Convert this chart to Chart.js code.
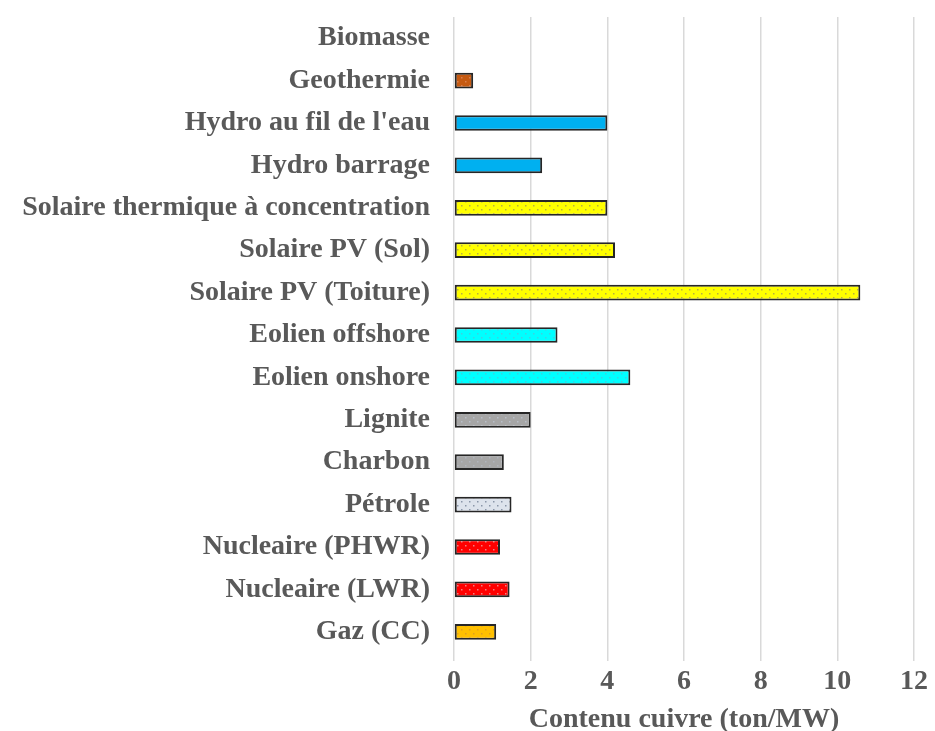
<!DOCTYPE html>
<html>
<head>
<meta charset="utf-8">
<script src="https://cdn.jsdelivr.net/npm/chart.js@4.4.1/dist/chart.umd.min.js"></script>
<style>
  html, body { margin: 0; padding: 0; background: #fff; }
  #wrap { width: 935px; height: 731px; }
</style>
</head>
<body>
<div id="wrap"><canvas id="cuivreChart" width="935" height="731"></canvas></div>
<script>
// categories, top to bottom
const categories = [
  "Biomasse", "Geothermie", "Hydro au fil de l'eau", "Hydro barrage",
  "Solaire thermique à concentration", "Solaire PV (Sol)", "Solaire PV (Toiture)",
  "Eolien offshore", "Eolien onshore", "Lignite", "Charbon", "Pétrole",
  "Nucleaire (PHWR)", "Nucleaire (LWR)", "Gaz (CC)"
];
// copper content, ton/MW
const cuivre = [0, 0.5, 4.0, 2.3, 4.0, 4.2, 10.6, 2.7, 4.6, 2.0, 1.3, 1.5, 1.2, 1.45, 1.1];
const xTicks = [0, 2, 4, 6, 8, 10, 12];

// fill colour + dot colour per bar
const fills = ["#C55A11", "#C55A11", "#00B0F0", "#00B0F0", "#FFFF00", "#FFFF00", "#FFFF00",
  "#00FFFF", "#00FFFF", "#A6A6A6", "#A6A6A6", "#DDE3EC", "#FF0000", "#FF0000", "#FFC000"];
const dots = ["#D98050", "#D98050", null, null, "#B8B040", "#B8B040", "#B8B040",
  "#40D0E0", "#40D0E0", "#B8BEC8", "#B0B4BC", "#8A96A8", "#F08080", "#F08080", "#E0A020"];

function motif(bg, dot) {
    if (!dot) return bg;
    const c = document.createElement("canvas");
    c.width = 8; c.height = 8;
    const g = c.getContext("2d");
    g.fillStyle = bg;
    g.fillRect(0, 0, 8, 8);
    g.fillStyle = dot;
    g.fillRect(1, 1, 1.5, 1.5);
    g.fillRect(5, 5, 1.5, 1.5);
    return g.createPattern(c, "repeat");
}

const police = { family: "'Liberation Serif', 'Times New Roman', serif", size: 28, weight: "bold", lineHeight: 1 };
const gris = "#595959";

new Chart(document.getElementById("cuivreChart"), {
    type: "bar",
    data: {
        labels: categories,
        datasets: [{
            data: cuivre,
            backgroundColor: fills.map((f, i) => motif(f, dots[i])),
            borderColor: "#262626",
            borderWidth: 2,
            borderSkipped: false,
            barPercentage: 0.37,
            categoryPercentage: 1
        }]
    },
    options: {
        indexAxis: "y",
        responsive: false,
        animation: false,
        layout: { padding: { top: 17, right: 13, left: 0, bottom: -3 } },
        plugins: { legend: { display: false }, tooltip: { enabled: false } },
        scales: {
            x: {
                min: 0, max: 12,
                afterBuildTicks: ax => { ax.ticks = xTicks.map(v => ({ value: v })); },
                grid: { color: "#D9D9D9", lineWidth: 1.5, tickLength: 8 },
                border: { display: false },
                ticks: { color: gris, font: police, padding: 7 },
                title: { display: true, text: "Contenu cuivre (ton/MW)", color: gris, font: police, padding: { top: 3, bottom: 0 } }
            },
            y: {
                afterFit: ax => { ax.width = 454; ax.paddingTop = 0; ax.paddingBottom = 0; },
                grid: { display: false, drawTicks: false },
                border: { display: false },
                ticks: { color: gris, font: police, padding: 24 }
            }
        }
    }
});
</script>
</body>
</html>
